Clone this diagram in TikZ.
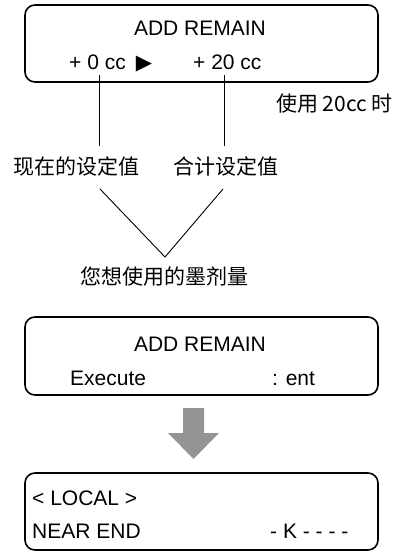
\documentclass[tikz,border=0pt]{standalone}
\usepackage{fontspec}
\setmainfont{Liberation Sans}
\newfontfamily\cjk{Noto Sans CJK SC}
\newfontfamily\symfont{DejaVu Sans}
\usetikzlibrary{positioning}

\begin{document}
\begin{tikzpicture}[x=1pt,y=1pt,
    panel/.style={draw,line width=1.6pt,rounded corners=10pt,inner sep=0pt,minimum width=353pt},
    txt/.style={inner sep=0pt,anchor=base west,font=\fontsize{21}{25}\selectfont},
    ctxt/.style={inner sep=0pt,font=\cjk\fontsize{21}{25}\selectfont},
    lead/.style={line width=0.9pt}]
    \useasboundingbox (0,0) rectangle (397,-551);

    \node (panel1) [panel,minimum height=77pt] at (201.5,-43.5) {};
    \node (title1) [txt,anchor=base] at (200,-36) {ADD REMAIN};
    \node (cur) [txt] at (69,-70) {+ 0 cc\hspace{10pt}{\symfont ▶}};
    \node (sum) [txt] at (193,-70) {+ 20 cc};
    \node (note) [ctxt,anchor=west] at (276,-104) {使用 20cc 时};

    \node (curlabel) [ctxt] at (76.5,-166) {现在的设定值};
    \node (sumlabel) [ctxt] at (226,-166) {合计设定值};
    \node (amount) [ctxt] at (164,-277) {您想使用的墨剂量};

    \coordinate (curtick) at (99,-75);
    \coordinate (sumtick) at (224,-75);
    \coordinate (vleft) at (100,-189);
    \coordinate (vright) at (223,-189);
    \coordinate (vtip) at (165,-257);

    \draw[lead,shorten >=10pt] (curtick) -- (curtick |- curlabel.north);
    \draw[lead,shorten >=10pt] (sumtick) -- (sumtick |- sumlabel.north);
    \draw[lead] (vleft) -- (vtip) -- (vright);

    \node (panel2) [panel,minimum height=78pt] at (201.5,-356) {};
    \node (title2) [txt,anchor=base] at (200,-351) {ADD REMAIN};
    \node (exec) [txt] at (70,-385) {Execute};
    \node (ent) [txt] at (272,-385) {: ent};

    \coordinate (shaft) at (193.5,-408);
    \fill[black!42] (shaft) ++(-10.5,0) -- ++(21,0) -- ++(0,-25) -- ++(15,0)
        -- (193.5,-459) -- (168,-433) -- ++(15,0) -- cycle;

    \node (panel3) [panel,minimum height=77pt] at (201.5,-511.5) {};
    \node (local) [txt] at (32,-505) {< LOCAL >};
    \node (near) [txt] at (32,-538) {NEAR END};
    \node (ink) [txt] at (270,-538) {- K - - - -};
\end{tikzpicture}
\end{document}
